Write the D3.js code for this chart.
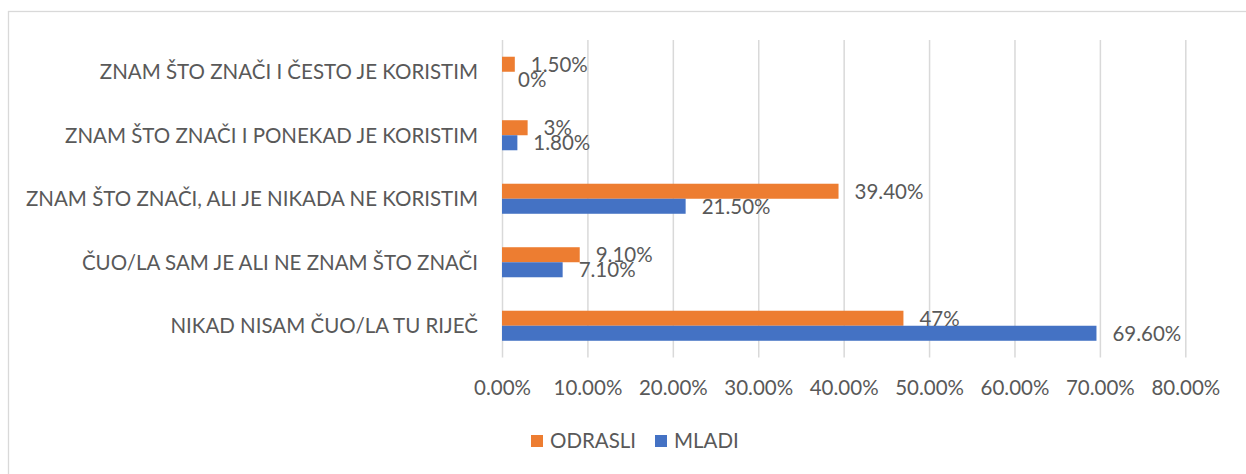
<!DOCTYPE html>
<html>
<head>
<meta charset="utf-8">
<script src="https://cdn.jsdelivr.net/npm/d3@7"></script>
<style>
  body { margin: 0; background: #fff; }
  svg text { font-family: Lato, sans-serif; fill: #595959; }
</style>
</head>
<body>
<svg id="chart" width="1246" height="474"></svg>
<script>
// categories, top to bottom
let categories = [
    "ZNAM ŠTO ZNAČI I ČESTO JE KORISTIM",
    "ZNAM ŠTO ZNAČI I PONEKAD JE KORISTIM",
    "ZNAM ŠTO ZNAČI, ALI JE NIKADA NE KORISTIM",
    "ČUO/LA SAM JE ALI NE ZNAM ŠTO ZNAČI",
    "NIKAD NISAM ČUO/LA TU RIJEČ"
]
let seriesNames = ["ODRASLI", "MLADI"]
let seriesColors = ["#ed7d31", "#4472c4"]
let odrasli = [1.5, 3, 39.4, 9.1, 47]
let mladi = [0, 1.8, 21.5, 7.1, 69.6]
let odrasliLabels = ["1.50%", "3%", "39.40%", "9.10%", "47%"]
let mladiLabels = ["0%", "1.80%", "21.50%", "7.10%", "69.60%"]
let ticks = [0, 10, 20, 30, 40, 50, 60, 70, 80]

let fontSize = "20.5px"
let svg = d3.select("#chart")

// chart border
svg.append("rect")
    .attr("x", 8.5).attr("y", 11.5)
    .attr("width", 1300).attr("height", 600)
    .attr("fill", "none")
    .attr("stroke", "#d9d9d9")
    .attr("stroke-width", 1.3)

let plot = { left: 502, right: 1185.3, top: 40, bottom: 357.5 }

// scales
let xScale = d3.scaleLinear()
    .domain([0, 80])
    .range([plot.left, plot.right])

let yScale = d3.scaleBand()
    .domain(categories)
    .range([plot.top, plot.bottom])
    .paddingInner(0.527)
    .paddingOuter(0.2635)

let subScale = d3.scaleBand()
    .domain(seriesNames)
    .range([0, yScale.bandwidth()])

// gridlines + tick labels
let xAxis = d3.axisBottom(xScale)
    .tickValues(ticks)
    .tickSize(-(plot.bottom - plot.top))
    .tickPadding(23)
    .tickFormat(function (d) { return d3.format(".2f")(d) + "%" })

let xAxisGroup = svg.append("g")
    .attr("class", "x-axis")
    .attr("transform", "translate(0," + plot.bottom + ")")
    .call(xAxis)

xAxisGroup.select(".domain").remove()
xAxisGroup.selectAll("line")
    .attr("stroke", "#d9d9d9")
    .attr("stroke-width", 1.5)
xAxisGroup.selectAll("text")
    .style("font-size", fontSize)
    .style("font-family", "Lato, sans-serif")
    .attr("fill", "#595959")

// category labels
let yAxis = d3.axisLeft(yScale)
    .tickSize(0)
    .tickPadding(24)

let yAxisGroup = svg.append("g")
    .attr("class", "y-axis")
    .attr("transform", "translate(" + plot.left + ",0)")
    .call(yAxis)

yAxisGroup.select(".domain").remove()
yAxisGroup.selectAll("text")
    .attr("dy", "0.36em")
    .style("font-size", fontSize)
    .style("font-family", "Lato, sans-serif")
    .attr("fill", "#595959")

// bars
let rows = categories.map(function (c, i) {
    return [
        { cat: c, series: seriesNames[0], value: odrasli[i], label: odrasliLabels[i], color: seriesColors[0] },
        { cat: c, series: seriesNames[1], value: mladi[i], label: mladiLabels[i], color: seriesColors[1] }
    ]
}).flat()

svg.selectAll("rect.bar")
    .data(rows)
    .enter()
    .append("rect")
    .attr("class", "bar")
    .attr("x", xScale(0))
    .attr("y", function (d) { return yScale(d.cat) + subScale(d.series) })
    .attr("width", function (d) { return xScale(d.value) - xScale(0) })
    .attr("height", subScale.bandwidth())
    .attr("fill", function (d) { return d.color })

// value labels
svg.selectAll("text.value")
    .data(rows)
    .enter()
    .append("text")
    .attr("class", "value")
    .attr("x", function (d) { return xScale(d.value) + 16 })
    .attr("y", function (d) { return yScale(d.cat) + subScale(d.series) + subScale.bandwidth() / 2 })
    .attr("dy", "0.36em")
    .style("font-size", fontSize)
    .text(function (d) { return d.label })

// legend
let legend = svg.append("g").attr("transform", "translate(531,441)")
let legendX = [0, 124]
seriesNames.forEach(function (name, i) {
    legend.append("rect")
        .attr("x", legendX[i]).attr("y", -6)
        .attr("width", 12).attr("height", 12)
        .attr("fill", seriesColors[i])
    legend.append("text")
        .attr("x", legendX[i] + 19).attr("y", 0)
        .attr("dy", "0.36em")
        .style("font-size", fontSize)
        .text(name)
})
</script>
</body>
</html>
